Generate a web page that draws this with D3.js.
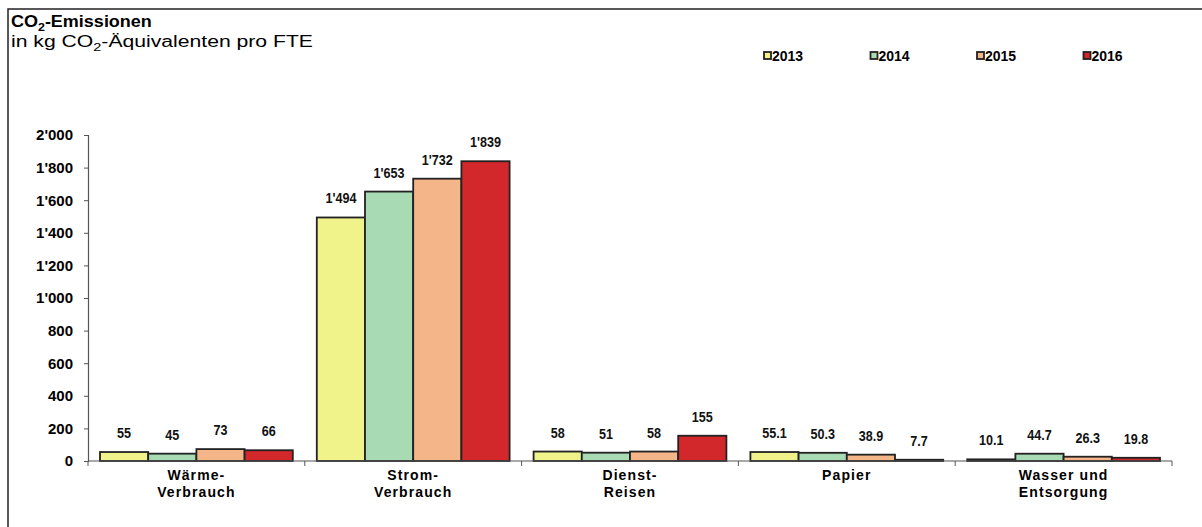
<!DOCTYPE html>
<html>
<head>
<meta charset="utf-8">
<script src="https://cdn.jsdelivr.net/npm/d3@7"></script>
<style>
  html, body { margin: 0; padding: 0; background: #fff; }
  svg { display: block; }
  .t { font-family: "Liberation Sans", Arial, sans-serif; fill: #000; }
  .val { font-family: "Liberation Sans", Arial, sans-serif; font-weight: bold; fill: #111; }
</style>
</head>
<body>
<svg id="chart" width="1202" height="527"></svg>
<script>
// Emissions per category and year (kg CO2 equivalents per FTE)
const categories = [["Wärme-", "Verbrauch"], ["Strom-", "Verbrauch"], ["Dienst-", "Reisen"], ["Papier"], ["Wasser und", "Entsorgung"]];
const years = ["2013", "2014", "2015", "2016"];
const v2013 = [55, 1494, 58, 55.1, 10.1];
const v2014 = [45, 1653, 51, 50.3, 44.7];
const v2015 = [73, 1732, 58, 38.9, 26.3];
const v2016 = [66, 1839, 155, 7.7, 19.8];
const yTicks = [0, 200, 400, 600, 800, 1000, 1200, 1400, 1600, 1800, 2000];

const seriesValues = [v2013, v2014, v2015, v2016];
const colors = ["#eff38a", "#a8dab3", "#f4b588", "#d2282b"];

const svg = d3.select("#chart");
const W = 1202, H = 527;

const locale = d3.formatLocale({ decimal: ".", thousands: "'", grouping: [3], currency: ["", ""] });
const fmtInt = locale.format(",d");
const fmtVal = v => Number.isInteger(v) ? fmtInt(v) : d3.format(".1f")(v);

// Stretch a text element horizontally so it spans the given width
function fitWidth(sel, x, yPos, width) {
  const len = sel.node().getComputedTextLength();
  sel.attr("transform", `translate(${x},${yPos}) scale(${width / len},1)`);
}

// Outer frame (top and left edges)
svg.append("path")
  .attr("d", `M8,${H} L8,9 L${W},9`)
  .attr("fill", "none").attr("stroke", "#222").attr("stroke-width", 1.5);

// Title
const title = svg.append("text").attr("class", "t")
  .attr("font-size", 16).attr("font-weight", "bold");
title.append("tspan").text("CO");
title.append("tspan").attr("font-size", 11).attr("dy", 4).text("2");
title.append("tspan").attr("dy", -4).text("-Emissionen");
fitWidth(title, 11, 27, 141);

const sub = svg.append("text").attr("class", "t").attr("font-size", 16);
sub.append("tspan").text("in kg CO");
sub.append("tspan").attr("font-size", 11).attr("dy", 4).text("2");
sub.append("tspan").attr("dy", -4).text("-Äquivalenten pro FTE");
fitWidth(sub, 11, 47, 302);

// Scales
const x0 = d3.scaleBand().domain(d3.range(categories.length)).range([88, 1172]).padding(0);
const x1 = d3.scaleBand().domain(years).range([12, x0.bandwidth() - 12]).padding(0);
const y = d3.scaleLinear().domain([0, 2000]).range([461, 135]);

// Y axis
const yAxis = svg.append("g").attr("transform", "translate(88,0)")
  .call(d3.axisLeft(y).tickValues(yTicks).tickSize(4).tickPadding(11).tickFormat(fmtInt));
yAxis.select(".domain").attr("stroke", "#555").attr("stroke-width", 1.2);
yAxis.selectAll(".tick line").attr("stroke", "#555");
yAxis.selectAll(".tick text").attr("class", "t").attr("font-size", 15).attr("font-weight", "bold")
  .attr("fill", "#000");

// Bars
const groups = svg.append("g").selectAll("g")
  .data(categories.map((c, i) => i))
  .join("g")
  .attr("transform", i => `translate(${x0(i)},0)`);

groups.selectAll("rect")
  .data(i => years.map((yr, k) => ({ yr, k, v: seriesValues[k][i] })))
  .join("rect")
  .attr("x", d => x1(d.yr))
  .attr("width", x1.bandwidth())
  .attr("y", d => y(d.v))
  .attr("height", d => y(0) - y(d.v))
  .attr("fill", d => colors[d.k])
  .attr("stroke", "#222")
  .attr("stroke-width", 1.8);

// Value labels in a condensed bold face above each bar
groups.selectAll("text.val")
  .data(i => years.map((yr, k) => ({ yr, k, v: seriesValues[k][i] })))
  .join("text")
  .attr("class", "val")
  .attr("transform", d => `translate(${x1(d.yr) + x1.bandwidth() / 2},${y(d.v) - 14}) scale(0.84,1)`)
  .attr("text-anchor", "middle")
  .attr("font-size", 15)
  .text(d => fmtVal(d.v));

// X axis
const xAxisG = svg.append("g");
xAxisG.append("line").attr("x1", 88).attr("x2", 1172).attr("y1", 461).attr("y2", 461)
  .attr("stroke", "#555").attr("stroke-width", 1.2);
xAxisG.selectAll("line.tk")
  .data(d3.range(categories.length + 1))
  .join("line").attr("class", "tk")
  .attr("x1", i => 88 + i * x0.bandwidth()).attr("x2", i => 88 + i * x0.bandwidth())
  .attr("y1", 461).attr("y2", 466)
  .attr("stroke", "#555");

const catLabels = xAxisG.selectAll("text.cat")
  .data(categories)
  .join("text").attr("class", "t cat")
  .attr("x", (c, i) => x0(i) + x0.bandwidth() / 2)
  .attr("y", 480)
  .attr("text-anchor", "middle")
  .attr("font-size", 14).attr("font-weight", "bold")
  .attr("letter-spacing", 1.1);
catLabels.selectAll("tspan")
  .data(c => c)
  .join("tspan")
  .attr("x", function () { return this.parentNode.getAttribute("x"); })
  .attr("dy", (d, j) => j === 0 ? 0 : 17)
  .text(d => d);

// Legend
const legend = svg.append("g").selectAll("g")
  .data(years)
  .join("g")
  .attr("transform", (d, k) => `translate(${764 + k * 106.5},56)`);
legend.append("rect")
  .attr("x", 0).attr("y", -4).attr("width", 7).attr("height", 7)
  .attr("fill", (d, k) => colors[k]).attr("stroke", "#222").attr("stroke-width", 1.8);
legend.append("text").attr("class", "t")
  .attr("x", 8).attr("y", 5)
  .attr("font-size", 14).attr("font-weight", "bold")
  .text(d => d);
</script>
</body>
</html>
